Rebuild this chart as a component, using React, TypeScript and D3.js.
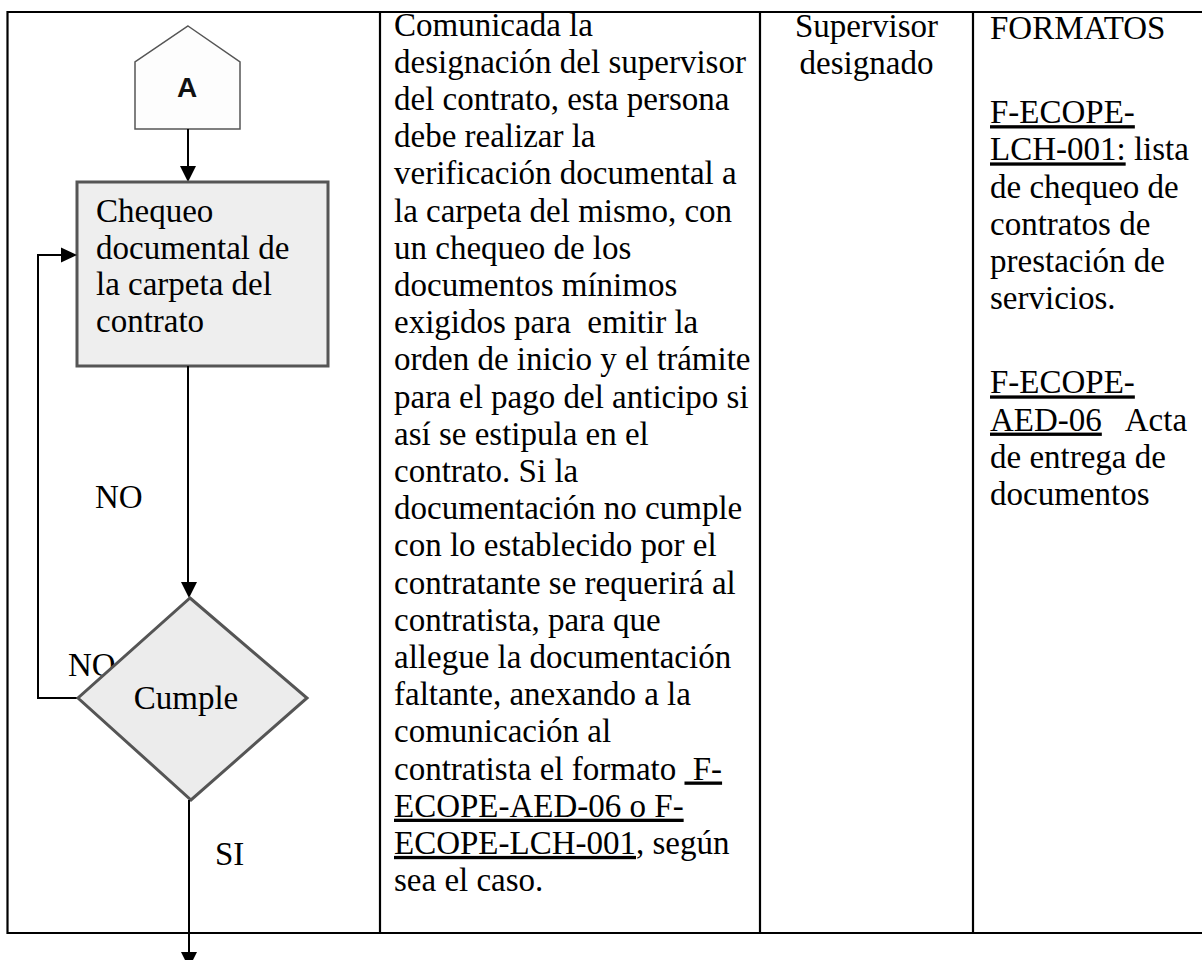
import { useEffect, useRef } from "react";
import * as d3 from "d3";

type Seg = [string, boolean?];

// column borders of the table (x), and the row top / bottom (y)
const colEdges = [7.5, 380, 760, 973];
const rowEdges = [12, 933];

const boxLines = ["Chequeo", "documental de", "la carpeta del", "contrato"];

const descLines: Seg[][] = [
  [["Comunicada la"]],
  [["designación del supervisor"]],
  [["del contrato, esta persona"]],
  [["debe realizar la"]],
  [["verificación documental a"]],
  [["la carpeta del mismo, con"]],
  [["un chequeo de los"]],
  [["documentos mínimos"]],
  [["exigidos para  emitir la"]],
  [["orden de inicio y el trámite"]],
  [["para el pago del anticipo si"]],
  [["así se estipula en el"]],
  [["contrato. Si la"]],
  [["documentación no cumple"]],
  [["con lo establecido por el"]],
  [["contratante se requerirá al"]],
  [["contratista, para que"]],
  [["allegue la documentación"]],
  [["faltante, anexando a la"]],
  [["comunicación al"]],
  [["contratista el formato "], [" F-", true]],
  [["ECOPE-AED-06 o F-", true]],
  [["ECOPE-LCH-001", true], [", según"]],
  [["sea el caso."]],
];

const respLines = ["Supervisor", "designado"];

const formatLines: Seg[][] = [
  [["FORMATOS"]],
  [],
  [["F-ECOPE-", true]],
  [["LCH-001:", true], [" lista"]],
  [["de chequeo de"]],
  [["contratos de"]],
  [["prestación de"]],
  [["servicios."]],
  [],
  [["F-ECOPE-", true]],
  [["AED-06", true], ["   Acta"]],
  [["de entrega de"]],
  [["documentos"]],
];

export default function App() {
  const svgRef = useRef<SVGSVGElement | null>(null);

  useEffect(() => {
    if (!svgRef.current) return;
    const width = 1202;
    const height = 960;
    const font = "'Liberation Serif', 'Times New Roman', serif";
    const fs = 33;
    const lh = 37.2;

    const svg = d3.select(svgRef.current);
    svg.selectAll("*").remove();
    svg.attr("width", width).attr("height", height);

    const line = d3.line<[number, number]>();

    // table
    const top = rowEdges[0];
    const bottom = rowEdges[1];
    svg.append("path")
      .attr("d", line([[width + 5, top], [colEdges[0], top], [colEdges[0], bottom], [width + 5, bottom]]))
      .attr("fill", "none").attr("stroke", "#000").attr("stroke-width", 2.2);
    colEdges.slice(1).forEach(x => {
      svg.append("line").attr("x1", x).attr("x2", x).attr("y1", top).attr("y2", bottom)
        .attr("stroke", "#000").attr("stroke-width", 2.2);
    });

    const arrowHead = (x: number, y: number, dir: "down" | "right") => {
      const pts: [number, number][] = dir === "down"
        ? [[x - 8, y - 16], [x + 8, y - 16], [x, y]]
        : [[x - 16, y - 7.5], [x - 16, y + 7.5], [x, y]];
      svg.append("path").attr("d", line(pts) + "Z").attr("fill", "#000");
    };
    const connector = (pts: [number, number][]) => {
      svg.append("path").attr("d", line(pts)).attr("fill", "none")
        .attr("stroke", "#000").attr("stroke-width", 2);
    };

    // connector "A"
    svg.append("path")
      .attr("d", line([[188, 26], [240, 62], [240, 129], [135, 129], [135, 62]]) + "Z")
      .attr("fill", "#fdfdfd").attr("stroke", "#555").attr("stroke-width", 1.5);
    svg.append("text").attr("x", 187).attr("y", 97).attr("text-anchor", "middle")
      .attr("font-family", "'Liberation Sans', Arial, sans-serif").attr("font-weight", 700)
      .attr("font-size", 28).attr("fill", "#111").text("A");

    connector([[188, 129], [188, 170]]);
    arrowHead(188, 182, "down");

    // process box
    svg.append("rect").attr("x", 77).attr("y", 182).attr("width", 251).attr("height", 184)
      .attr("fill", "#eeeeee").attr("stroke", "#555").attr("stroke-width", 3);
    boxLines.forEach((t, i) => {
      svg.append("text").attr("x", 96).attr("y", 222 + i * 36.6)
        .attr("font-family", font).attr("font-size", fs).attr("fill", "#000").text(t);
    });

    // box -> decision
    connector([[188, 366], [188, 586]]);
    arrowHead(189, 598, "down");

    // loop back NO
    connector([[80, 698], [38, 698], [38, 255], [65, 255]]);
    arrowHead(77, 255, "right");

    svg.append("text").attr("x", 95).attr("y", 508)
      .attr("font-family", font).attr("font-size", fs).attr("fill", "#000").text("NO");
    svg.append("text").attr("x", 68).attr("y", 676)
      .attr("font-family", font).attr("font-size", fs).attr("fill", "#000").text("NO");

    // decision
    svg.append("path")
      .attr("d", line([[190, 598], [307, 698], [191, 800], [78, 698]]) + "Z")
      .attr("fill", "#ececec").attr("stroke", "#555").attr("stroke-width", 3);
    svg.append("text").attr("x", 186).attr("y", 709).attr("text-anchor", "middle")
      .attr("font-family", font).attr("font-size", fs).attr("fill", "#000").text("Cumple");

    connector([[189, 800], [189, 954]]);
    arrowHead(189, 968, "down");
    svg.append("text").attr("x", 215).attr("y", 865)
      .attr("font-family", font).attr("font-size", fs).attr("fill", "#000").text("SI");

    // text columns; an empty line is a paragraph gap
    const writeLines = (lines: Seg[][], x: number, y0: number, gap: number) => {
      let y = y0;
      lines.forEach((segs, i) => {
        if (i > 0) y += lines[i - 1].length === 0 ? gap : lh;
        if (segs.length === 0) return;
        const t = svg.append("text").attr("x", x).attr("y", y)
          .attr("font-family", font).attr("font-size", fs).attr("fill", "#000")
          .style("white-space", "pre");
        segs.forEach(([s, u]) => {
          const sp = t.append("tspan").text(s);
          if (u) sp.style("text-decoration", "underline");
        });
      });
    };
    writeLines(descLines, 394, 35.5, lh);
    writeLines(formatLines, 990, 39, 47);

    respLines.forEach((t, i) => {
      svg.append("text").attr("x", (colEdges[2] + colEdges[3]) / 2).attr("y", 37 + i * lh)
        .attr("text-anchor", "middle").attr("font-family", font).attr("font-size", fs)
        .attr("fill", "#000").text(t);
    });
  }, []);

  return <svg ref={svgRef} style={{ position: "absolute", left: 0, top: 0 }} />;
}
